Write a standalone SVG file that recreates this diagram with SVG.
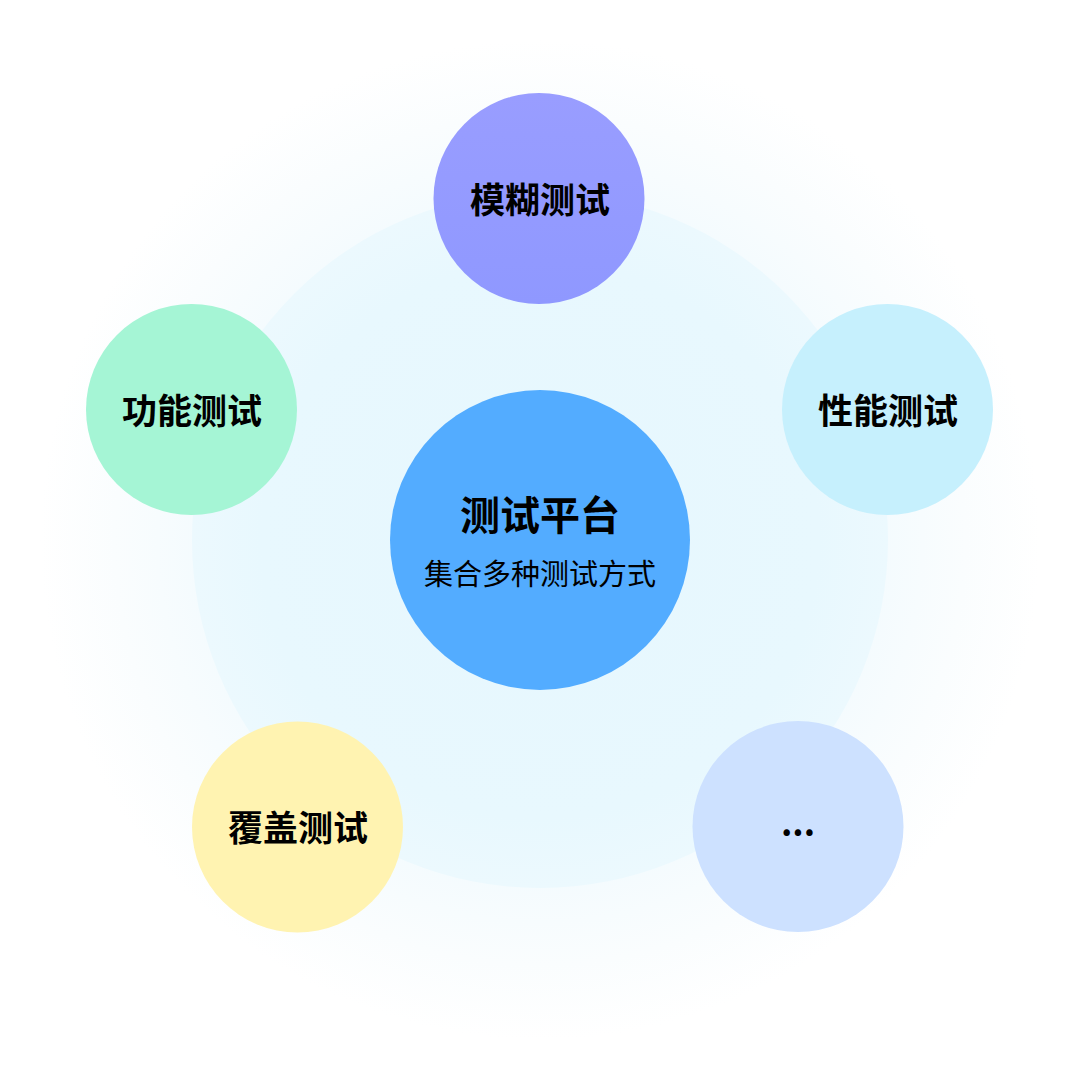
<svg xmlns="http://www.w3.org/2000/svg" width="1080" height="1080" viewBox="0 0 1080 1080">
  <style>
    .lbl { font-family: "Noto Sans CJK SC", "Noto Sans", sans-serif; font-weight: 700; font-size: 35px; fill: #000; text-anchor: middle; }
    .title { font-family: "Noto Sans CJK SC", "Noto Sans", sans-serif; font-weight: 700; font-size: 40px; fill: #000; text-anchor: middle; }
    .sub { font-family: "Noto Sans CJK SC", "Noto Sans", sans-serif; font-weight: 400; font-size: 29px; fill: #000; text-anchor: middle; }
  </style>
  <defs>
    <radialGradient id="glow" cx="540" cy="540" r="500" gradientUnits="userSpaceOnUse">
      <stop offset="0.68" stop-color="#F4FBFE"/>
      <stop offset="0.85" stop-color="#FAFDFE"/>
      <stop offset="1" stop-color="#FFFFFF"/>
    </radialGradient>
    <radialGradient id="ring" cx="540" cy="540" r="348" gradientUnits="userSpaceOnUse">
      <stop offset="0" stop-color="#E6F7FE"/>
      <stop offset="0.8" stop-color="#E8F8FE"/>
      <stop offset="1" stop-color="#ECF9FE"/>
    </radialGradient>
    <linearGradient id="purple" x1="0" y1="0" x2="0" y2="1">
      <stop offset="0" stop-color="#999DFF"/>
      <stop offset="1" stop-color="#8F98FF"/>
    </linearGradient>
  </defs>
  <rect width="1080" height="1080" fill="#FFFFFF"/>
  <circle cx="540" cy="540" r="500" fill="url(#glow)"/>
  <circle cx="540" cy="540" r="348" fill="url(#ring)"/>
  <g id="connectors"/>
  <g id="center">
    <circle cx="540" cy="540" r="150" fill="#53ACFF"/>
    <text class="title" x="540" y="530">测试平台</text>
    <text class="sub" x="540" y="585">集合多种测试方式</text>
  </g>
  <g id="fuzz">
    <circle cx="539" cy="198.5" r="105.5" fill="url(#purple)"/>
    <text class="lbl" x="540" y="213">模糊测试</text>
  </g>
  <g id="func">
    <circle cx="191.5" cy="409.5" r="105.5" fill="#A5F5D5"/>
    <text class="lbl" x="192" y="424">功能测试</text>
  </g>
  <g id="perf">
    <circle cx="887.5" cy="409.5" r="105.5" fill="#C6F0FD"/>
    <text class="lbl" x="888" y="424">性能测试</text>
  </g>
  <g id="cover">
    <circle cx="297.5" cy="827" r="105.5" fill="#FFF3B1"/>
    <text class="lbl" x="298" y="841">覆盖测试</text>
  </g>
  <g id="more">
    <circle cx="798" cy="826.5" r="105.5" fill="#CDE1FF"/>
    <text class="lbl" x="798" y="836">...</text>
  </g>
</svg>
